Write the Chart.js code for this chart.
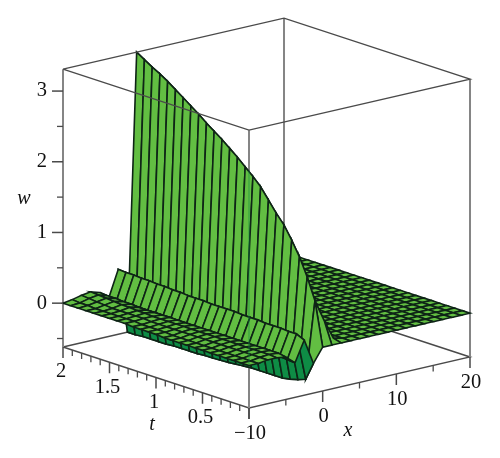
<!DOCTYPE html>
<html>
<head>
<meta charset="utf-8">
<title>w(x,t) surface</title>
<script src="https://cdn.jsdelivr.net/npm/chart.js@4/dist/chart.umd.js"></script>
<style>
body { margin: 0; background: #fff; }
canvas { display: block; filter: blur(0.45px); }
</style>
</head>
<body>
<canvas id="surfaceChart" width="500" height="458"></canvas>
<script>
// grid of the surface
var xGrid = [-10, -8.75, -7.5, -6.25, -5, -3.75, -2.5, -1.25, 0, 1.25, 2.5, 3.75, 5, 6.25, 7.5, 8.75, 10, 11.25, 12.5, 13.75, 15, 16.25, 17.5, 18.75, 20];
var tGrid = [0, 0.083, 0.167, 0.25, 0.333, 0.417, 0.5, 0.583, 0.667, 0.75, 0.833, 0.917, 1, 1.083, 1.167, 1.25, 1.333, 1.417, 1.5, 1.583, 1.667, 1.75, 1.833, 1.917, 2];
// w, one row per t, for x = -10 .. 2.5
var wNear = [
    [-0.02, -0.02, 0, 0, -0.02, -0.13, 0.16, -0.20, 0, 0, 0],
    [-0.02, -0.02, 0, 0.01, 0, -0.12, 0.21, -0.46, 0.62, 0.31, 0.03],
    [-0.02, -0.02, 0, 0.01, 0, -0.11, 0.21, -0.50, 0.92, 0.2, 0],
    [-0.02, -0.02, 0, 0.01, 0, -0.10, 0.22, -0.53, 1.17, 0.1, 0],
    [-0.02, -0.02, 0, 0.01, 0, -0.10, 0.22, -0.55, 1.37, 0.05, 0],
    [-0.02, -0.02, 0, 0.01, 0, -0.10, 0.22, -0.55, 1.55, 0.02, 0],
    [-0.02, -0.02, 0, 0.01, 0, -0.09, 0.23, -0.55, 1.68, 0, 0],
    [-0.02, -0.02, 0, 0.01, 0, -0.09, 0.23, -0.55, 1.83, 0, 0],
    [-0.02, -0.02, 0, 0.01, 0, -0.09, 0.23, -0.55, 1.98, 0, 0],
    [-0.02, -0.02, 0, 0.01, 0, -0.09, 0.24, -0.56, 2.09, 0, 0],
    [-0.02, -0.02, 0, 0.01, 0, -0.08, 0.24, -0.57, 2.19, 0, 0],
    [-0.02, -0.02, 0, 0.01, 0, -0.08, 0.24, -0.58, 2.29, 0, 0],
    [-0.01, -0.01, 0, 0.01, 0, -0.08, 0.24, -0.585, 2.38, 0, 0],
    [-0.01, -0.01, 0, 0.01, 0, -0.08, 0.25, -0.59, 2.47, 0, 0],
    [-0.01, -0.01, 0, 0.01, 0, -0.08, 0.25, -0.59, 2.55, 0, 0],
    [-0.01, -0.01, 0, 0.01, 0, -0.08, 0.25, -0.60, 2.63, 0, 0],
    [0, 0, 0.01, 0.01, 0, -0.07, 0.26, -0.60, 2.72, 0, 0],
    [0, 0, 0.01, 0.02, 0, -0.07, 0.26, -0.60, 2.80, 0, 0],
    [0, 0, 0.01, 0.02, 0, -0.07, 0.27, -0.60, 2.88, 0, 0],
    [0, 0, 0.01, 0.03, 0, -0.07, 0.27, -0.61, 2.96, 0, 0],
    [0, 0, 0.01, 0.03, 0.01, -0.07, 0.28, -0.61, 3.04, 0, 0],
    [0, 0, 0.02, 0.04, 0.01, -0.07, 0.28, -0.61, 3.11, 0, 0],
    [0, 0.01, 0.03, 0.05, 0.02, -0.07, 0.29, -0.61, 3.17, 0, 0],
    [0, 0.01, 0.04, 0.06, 0.02, -0.07, 0.29, -0.62, 3.24, 0, 0],
    [0, 0.02, 0.05, 0.07, 0.03, -0.065, 0.30, -0.62, 3.31, 0, 0]
];
// flat part of the sheet, x = 3.75 .. 20
var wFar = [0, 0, 0, 0, 0, 0, 0, 0, 0, 0, 0, 0, 0, 0];

var wTicks = [0, 1, 2, 3];
var wMinorTicks = [-0.5, 0.5, 1.5, 2.5];
var tTicks = [2, 1.5, 1, 0.5, 0];
var tTickLabels = ["2", "1.5", "1", "0.5"];
var tMinorTicks = [1.9, 1.8, 1.7, 1.6, 1.4, 1.3, 1.2, 1.1, 0.9, 0.8, 0.7, 0.6, 0.4, 0.3, 0.2, 0.1];
var xTicks = [-10, 0, 10, 20];
var xTickLabels = ["\u221210", "0", "10", "20"];
var xMinorTicks = [-5, 5, 15];
var frontEdgeTint = [-0.01, 2.74];

var wBottom = -0.62, wTop = 3.31;
var FILL_FRONT = "#62be42", FILL_BACK = "#0e8c45", GRID = "#0e2416";
var EDGE = "#4a4a4a", POST = "#858585";

// fixed box projection, same as the picture's view
function project(x, t, w) {
    return {
        x: 249 + 7.367 * (x + 10) - 93 * t,
        y: 408 - 1.7 * (x + 10) - 30.5 * t - 70.7 * (w - wBottom)
    };
}

function wAt(i, j) {
    return i < wNear[j].length ? wNear[j][i] : wFar[i - wNear[j].length];
}

function gridPoint(i, j) {
    return project(xGrid[i], tGrid[j], wAt(i, j));
}

function lineSet(points, color, width) {
    return {
        data: points, showLine: true, fill: false, pointRadius: 0, tension: 0,
        borderColor: color, borderWidth: width
    };
}

function signedArea(p) {
    var a = 0;
    for (var k = 0; k < 4; k++) {
        var q = p[(k + 1) % 4];
        a += p[k].x * q.y - q.x * p[k].y;
    }
    return a;
}

var paint = [];

// back of the box, goes under the surface
function box(x, t, w) { return project(x, t, w); }
paint.push(lineSet([box(-10, 2, wBottom), box(20, 2, wBottom), box(20, 0, wBottom), box(-10, 0, wBottom), box(-10, 2, wBottom)], EDGE, 1.4));
paint.push(lineSet([box(20, 2, wBottom), box(20, 2, wTop)], POST, 2));
paint.push(lineSet([box(-10, 0, wBottom), box(-10, 0, wTop)], POST, 2));
paint.push(lineSet([box(-10, 2, wBottom), box(-10, 2, wTop)], POST, 2));
paint.push(lineSet([box(20, 0, wBottom), box(20, 0, wTop)], POST, 2));

// quads from far corner to near corner so the near ones cover the far ones
for (var i = xGrid.length - 2; i >= 0; i--) {
    for (var j = tGrid.length - 2; j >= 0; j--) {
        var quad = [gridPoint(i, j), gridPoint(i + 1, j), gridPoint(i + 1, j + 1), gridPoint(i, j + 1)];
        var ds = lineSet(quad.concat([quad[0]]), GRID, 1.6);
        ds.fill = "shape";
        ds.backgroundColor = signedArea(quad) < 0 ? FILL_FRONT : FILL_BACK;
        paint.push(ds);
    }
}

// top of the box stays on top of the sheet
paint.push(lineSet([box(-10, 2, wTop), box(20, 2, wTop), box(20, 0, wTop), box(-10, 0, wTop), box(-10, 2, wTop)], EDGE, 1.4));
paint.push(lineSet([box(-10, 0, frontEdgeTint[0]), box(-10, 0, frontEdgeTint[1])], "rgba(20,140,70,0.55)", 1.2));

// tick marks
wTicks.forEach(function (v) {
    var p = box(-10, 2, v);
    paint.push(lineSet([p, { x: p.x - 11, y: p.y }], EDGE, 1.5));
});
wMinorTicks.forEach(function (v) {
    var p = box(-10, 2, v);
    paint.push(lineSet([p, { x: p.x - 6, y: p.y }], EDGE, 1.3));
});
tTicks.forEach(function (v) {
    var p = box(-10, v, wBottom);
    paint.push(lineSet([p, { x: p.x, y: p.y + 11 }], EDGE, 1.5));
});
tMinorTicks.forEach(function (v) {
    var p = box(-10, v, wBottom);
    paint.push(lineSet([p, { x: p.x, y: p.y + 6 }], EDGE, 1.3));
});
xTicks.forEach(function (v) {
    var p = box(v, 0, wBottom);
    paint.push(lineSet([p, { x: p.x, y: p.y + 11 }], EDGE, 1.5));
});
xMinorTicks.forEach(function (v) {
    var p = box(v, 0, wBottom);
    paint.push(lineSet([p, { x: p.x, y: p.y + 6 }], EDGE, 1.3));
});

var axisText = {
    id: "axisText",
    afterDraw: function (chart) {
        var c = chart.ctx, sx = chart.scales.x, sy = chart.scales.y;
        function put(text, p, dx, dy, align, font) {
            c.font = font;
            c.textAlign = align;
            c.textBaseline = "middle";
            c.fillStyle = "#111";
            c.fillText(text, sx.getPixelForValue(p.x) + dx, sy.getPixelForValue(p.y) + dy);
        }
        var num = "20.5px 'Liberation Serif'", ital = "italic 20px 'Liberation Serif'";
        wTicks.forEach(function (v) { put(String(v), box(-10, 2, v), -16, 0, "right", num); });
        tTickLabels.forEach(function (s, k) { put(s, box(-10, tTicks[k], wBottom), -2, 25, "center", num); });
        xTickLabels.forEach(function (s, k) { put(s, box(xTicks[k], 0, wBottom), 1, 26, "center", num); });
        put("w", { x: 24, y: 199 }, 0, 0, "center", ital);
        put("t", { x: 152, y: 425 }, 0, 0, "center", ital);
        put("x", { x: 348, y: 431 }, 0, 0, "center", ital);
    }
};

// chart.js paints the first dataset last
new Chart(document.getElementById("surfaceChart"), {
    type: "scatter",
    data: { datasets: paint.reverse() },
    options: {
        responsive: false,
        animation: false,
        layout: { padding: 0 },
        plugins: { legend: { display: false }, tooltip: { enabled: false } },
        scales: {
            x: { type: "linear", min: 0, max: 500, display: false },
            y: { type: "linear", min: 0, max: 458, reverse: true, display: false }
        }
    },
    plugins: [axisText]
});
</script>
</body>
</html>
